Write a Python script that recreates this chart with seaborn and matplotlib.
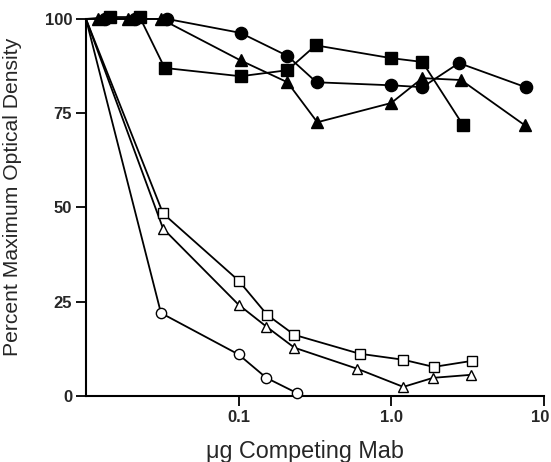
import matplotlib
matplotlib.use("Agg")
import matplotlib.pyplot as plt
import matplotlib.transforms as mtransforms
import seaborn as sns
import pandas as pd

# filled symbols (top curves)
fc_x = [0.01, 0.0133, 0.021, 0.034, 0.103, 0.209, 0.324, 1.0, 1.6, 2.78, 7.6]
fc_y = [100, 100, 100, 100, 96.3, 90.2, 83.2, 82.4, 81.9, 88.3, 81.9]

fs_x = [0.01, 0.0144, 0.0225, 0.0328, 0.103, 0.209, 0.32, 1.0, 1.6, 2.96]
fs_y = [100, 100.5, 100.5, 87.0, 84.8, 86.4, 93.0, 89.6, 88.6, 71.8]

ft_x = [0.01, 0.012, 0.0188, 0.031, 0.103, 0.209, 0.328, 1.0, 1.6, 2.87, 7.5]
ft_y = [100, 100, 100, 100, 89.0, 83.2, 72.6, 77.7, 84.3, 83.8, 71.8]

# open symbols (bottom curves)
oc_x = [0.01, 0.031, 0.1, 0.152, 0.24]
oc_y = [100, 22.0, 11.0, 4.8, 0.8]

ot_x = [0.01, 0.032, 0.1, 0.152, 0.232, 0.6, 1.2, 1.88, 3.33]
ot_y = [100, 44.4, 24.2, 18.4, 12.8, 7.2, 2.4, 4.8, 5.6]

os_x = [0.01, 0.032, 0.1, 0.154, 0.232, 0.62, 1.2, 1.9, 3.38]
os_y = [100, 48.4, 30.6, 21.5, 16.2, 11.2, 9.6, 7.7, 9.3]

x_ticks = [0.1, 1.0, 10]
x_ticklabels = ["0.1", "1.0", "10"]
y_ticks = [0, 25, 50, 75, 100]

sns.set_style("ticks")
plt.rcParams['font.family'] = ['Liberation Sans', 'DejaVu Sans']

fig = plt.figure(figsize=(5.51, 4.62), dpi=100)
ax = fig.add_axes([0.156, 0.143, 0.831, 0.816])

series = [
    (fc_x, fc_y, "o", "black", 8.8),
    (fs_x, fs_y, "s", "black", 8.4),
    (ft_x, ft_y, "^", "black", 8.8),
    (oc_x, oc_y, "o", "white", 7.4),
    (ot_x, ot_y, "^", "white", 7.8),
    (os_x, os_y, "s", "white", 7.8),
]

for xs, ys, mk, face, ms in series:
    df = pd.DataFrame({"x": xs, "y": ys})
    sns.lineplot(data=df, x="x", y="y", ax=ax, estimator=None, sort=False,
                 color="black", lw=1.3, marker=mk, markersize=ms,
                 markerfacecolor=face, markeredgecolor="black",
                 markeredgewidth=1.0, markevery=slice(1, None),
                 clip_on=False, zorder=3)

ax.set_xscale("log")
ax.set_xlim(0.01, 10)
ax.set_ylim(0, 100)
ax.set_xticks(x_ticks)
ax.set_xticklabels(x_ticklabels)
ax.minorticks_off()
ax.set_yticks(y_ticks)
ax.tick_params(axis="both", direction="out", length=7, width=1.3,
               labelsize=12, pad=3, color="black")
for lab in ax.get_xticklabels() + ax.get_yticklabels():
    lab.set_fontweight("bold")
# last x label sits at the very edge; nudge it in a little
last = ax.get_xticklabels()[-1]
last.set_transform(last.get_transform() +
                   mtransforms.ScaledTranslation(-4 / 100, 0, fig.dpi_scale_trans))

ax.set_xlabel("μg Competing Mab", fontsize=16.8)
ax.xaxis.set_label_coords(0.478, -0.118)
ax.set_ylabel("Percent Maximum Optical Density", fontsize=15.2)
ax.yaxis.set_label_coords(-0.14, 0.528)

sns.despine(ax=ax)
for sp in ["left", "bottom"]:
    ax.spines[sp].set_linewidth(1.5)
    ax.spines[sp].set_color("black")

fig.savefig("out.png", dpi=100)
